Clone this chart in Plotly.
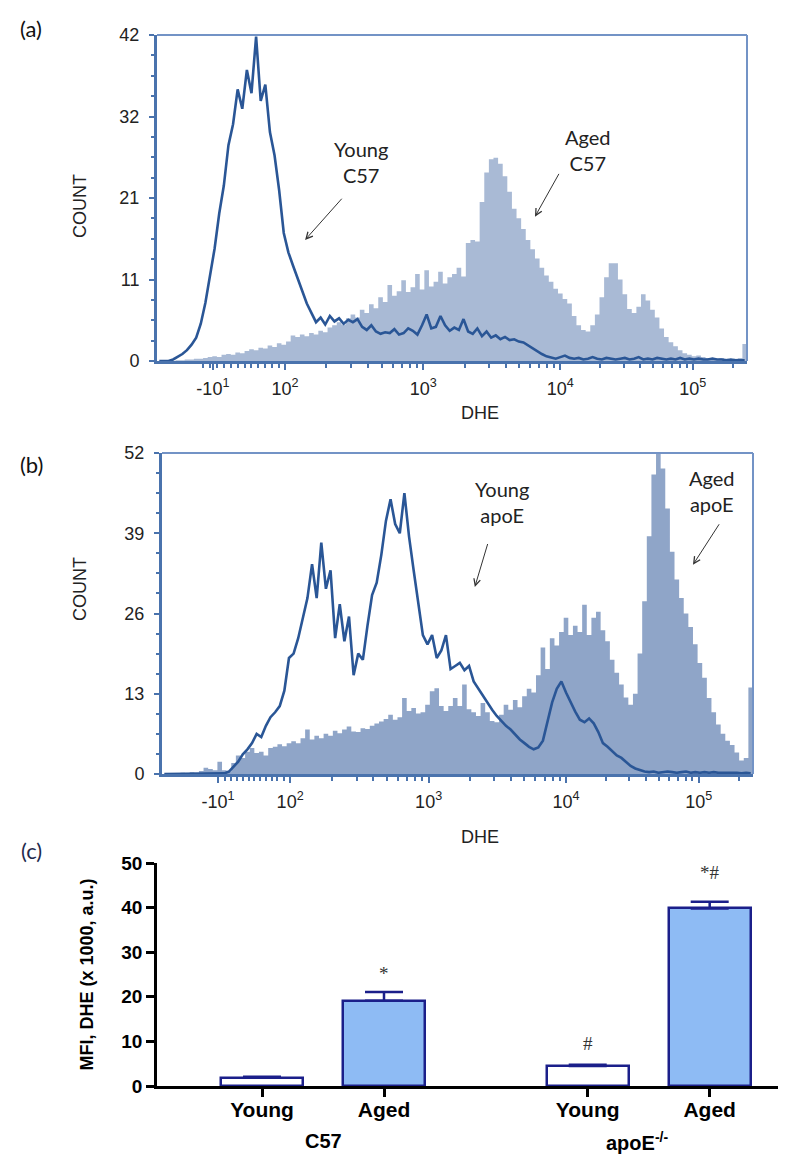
import numpy as np
import plotly.graph_objects as go

# ---------------- data ----------------
N_BINS = 128
BIN_WIDTH = 8  # display channels per histogram bin (1024-channel logicle scale)

young_c57 = [0, 0, 0, 0.2, 0.5, 0.9, 1.4, 2.1, 3.0, 4.8,
             7.5, 10.8, 14.5, 19.0, 22.6, 27.8, 30.5, 35.0, 32.5, 37.5,
             34.5, 41.8, 33.5, 35.6, 29.5, 26.5, 22.0, 16.5, 14.0, 12.3,
             10.6, 9.0, 7.4, 6.2, 5.0, 5.6, 4.7, 5.8, 5.1, 5.5,
             4.8, 5.3, 5.0, 5.4, 4.4, 4.0, 4.6, 3.8, 3.5, 3.7,
             3.6, 4.1, 3.4, 3.6, 4.2, 3.9, 3.4, 4.6, 6.0, 4.2,
             4.4, 5.8, 4.6, 3.9, 4.3, 4.0, 5.4, 3.8, 3.5, 4.2,
             3.2, 3.8, 3.0, 3.3, 2.8, 3.1, 2.7, 2.8, 2.5, 2.4,
             2.0, 1.6, 1.3, 0.9, 0.6, 0.4, 0.3, 0.5, 0.7, 0.4,
             0.3, 0.4, 0.2, 0.3, 0.5, 0.3, 0.2, 0.4, 0.3, 0.2,
             0.3, 0.4, 0.2, 0.3, 0.5, 0.2, 0.3, 0.2, 0.4, 0.3,
             0.2, 0.3, 0.2, 0.4, 0.2, 0.3, 0.2, 0.3, 0.2, 0.2,
             0.3, 0.2, 0.2, 0.1, 0.2, 0.1, 0.1, 0.1]

aged_c57 = [0, 0, 0, 0, 0.1, 0.1, 0.2, 0.2, 0.3, 0.3,
            0.4, 0.5, 0.6, 0.5, 0.8, 0.9, 0.8, 1.1, 1.0, 1.3,
            1.5, 1.4, 1.7, 1.6, 2.0, 1.8, 2.3, 2.1, 2.5, 3.3,
            3.1, 3.4, 3.2, 3.6, 3.4, 3.9, 3.7, 4.3, 4.6, 5.0,
            4.7, 5.5, 6.0, 5.6, 6.6, 6.2, 7.3, 6.8, 8.2, 7.6,
            9.8, 8.4, 9.0, 10.4, 8.9, 9.5, 11.2, 9.2, 11.7, 9.6,
            10.2, 11.5, 10.0, 10.8, 11.2, 12.0, 10.9, 15.2, 15.6, 15.4,
            20.5, 24.3, 26.0, 26.2, 25.4, 23.8, 21.8, 19.6, 18.4, 17.0,
            15.6, 14.4, 13.2, 12.0, 11.0, 10.2, 9.3, 8.7, 8.0, 7.4,
            5.8, 4.6, 4.0, 3.8, 4.6, 6.0, 8.2, 10.8, 12.6, 12.6,
            10.5, 8.6, 6.7, 6.2, 7.0, 8.6, 7.8, 6.6, 5.6, 4.2,
            3.1, 2.4, 1.9, 1.4, 1.0, 0.8, 0.6, 0.7, 0.5, 0.4,
            0.3, 0.3, 0.4, 0.3, 0.2, 0.3, 0.4, 2.2]

young_apoe = [0, 0, 0, 0, 0, 0, 0, 0, 0, 0,
              0, 0, 0, 0.1, 0.4, 1.2, 2.0, 3.2, 4.0, 5.0,
              6.5, 6.0, 7.8, 9.2, 10.0, 11.0, 13.5, 18.8, 19.5, 22.0,
              25.5, 28.5, 34.0, 28.5, 37.5, 30.0, 33.0, 22.0, 27.5, 21.5,
              25.5, 16.0, 19.5, 18.5, 24.0, 29.0, 31.0, 35.5, 41.0, 44.5,
              40.5, 39.0, 45.5, 38.5, 33.0, 28.0, 22.5, 21.0, 22.5, 18.8,
              20.0, 22.5, 17.0, 17.5, 18.0, 16.8, 17.5, 15.0, 13.8, 12.6,
              11.5, 10.4, 9.4, 8.6, 7.8, 7.2, 6.4, 5.6, 5.0, 4.4,
              4.0, 4.3, 5.4, 8.4, 11.6, 13.8, 15.0, 13.2, 11.5, 10.1,
              8.8, 8.4, 9.0, 8.2, 6.8, 5.0, 4.4, 3.7, 3.0, 2.6,
              2.0, 1.3, 0.9, 0.6, 0.4, 0.3, 0.4, 0.2, 0.3, 0.4,
              0.3, 0.2, 0.3, 0.4, 0.2, 0.3, 0.2, 0.3, 0.2, 0.3,
              0.2, 0.2, 0.3, 0.2, 0.2, 0.1, 0.2, 0.1]

aged_apoe = [0, 0, 0.1, 0, 0.2, 0.1, 0.3, 0.2, 0.5, 1.0,
             0.8, 0.6, 2.0, 0.6, 0.4, 1.8, 3.0, 2.6, 3.6, 4.2,
             3.4, 3.6, 3.0, 4.2, 4.4, 4.8, 4.5, 5.0, 5.3, 5.0,
             5.8, 7.2, 5.6, 6.2, 5.8, 6.5, 6.2, 7.0, 6.6, 7.2,
             7.7, 6.9, 6.8, 7.4, 7.3, 7.8, 8.2, 8.5, 8.9, 9.6,
             8.8, 9.2, 12.3, 10.2, 10.7, 9.8, 10.0, 11.2, 13.4, 13.9,
             11.0, 10.2, 11.0, 12.3, 11.0, 14.5, 10.5, 10.0, 9.4, 11.5,
             10.0, 8.6, 8.4, 9.6, 11.2, 10.4, 12.0, 10.8, 12.6, 13.8,
             13.2, 16.0, 20.5, 17.0, 22.0, 20.8, 23.0, 25.3, 22.5, 24.0,
             23.0, 27.4, 22.5, 25.3, 26.3, 23.3, 21.5, 18.5, 16.4, 14.5,
             12.4, 11.2, 13.0, 19.5, 28.0, 38.5, 48.5, 52.0, 49.5, 43.0,
             36.0, 31.5, 28.5, 26.0, 23.8, 21.0, 18.0, 15.6, 12.3, 10.0,
             8.0, 6.5, 5.4, 4.7, 3.5, 2.2, 2.6, 14.0]

# logicle display: decade label channels
decade_labels = ["-10<sup>1</sup>", "10<sup>2</sup>", "10<sup>3</sup>", "10<sup>4</sup>", "10<sup>5</sup>"]
decade_channels = [97, 222, 462, 700, 930]

count_ticks_a = [0, 10.5, 21, 31.5, 42]
count_labels_a = ["0", "11", "21", "32", "42"]
count_ticks_b = [0, 13, 26, 39, 52]
count_labels_b = ["0", "13", "26", "39", "52"]

# MFI bar chart
mfi_groups = ["C57", "C57", "apoE<sup>-/-</sup>", "apoE<sup>-/-</sup>"]
mfi_group_idx = [0, 0, 1, 1]
mfi_ages = ["Young", "Aged", "Young", "Aged"]
mfi_age_idx = [0, 1, 0, 1]
mfi_mean = [1.9, 19.1, 4.5, 39.8]
mfi_sem = [0.15, 2.0, 0.25, 1.5]
mfi_marks = ["", "*", "#", "*#"]

# ---------------- style ----------------
PAGE_OFF = 8            # browser body margin
W, H = 794 - 2 * PAGE_OFF, 1165 - 2 * PAGE_OFF
LINE_BLUE = "#2A5696"
FILL_A = "#A9BAD5"
FILL_B = "#8FA5C8"
AXIS_BLUE = "#4A73AD"
FRAME_BLUE = "#7393C6"
NAVY = "#1B1F8A"
BAR_BLUE = "#8EBBF4"
TXT = "#222222"
GROUP_STEP = 2.67
MARK_SHIFT = [0, 18, 21, 29]


def px(x):
    return (x - PAGE_OFF) / W


def py(y):
    return 1 - (y - PAGE_OFF) / H


edges = np.arange(N_BINS + 1) * BIN_WIDTH
centers = (edges[:-1] + edges[1:]) / 2

minor_ch_a = [80, 92, 104, 116, 128, 140, 152, 164, 176, 188, 200, 212,
              294, 337, 366, 390, 409, 425, 439, 451,
              534, 576, 605, 628, 647, 663, 677, 689,
              769, 810, 838, 861, 879, 894, 908, 919, 999]
minor_ch_b = [110, 120, 130, 140, 150, 160, 170, 180, 190, 200, 212,
              294, 337, 366, 390, 409, 425, 439, 451,
              534, 576, 605, 628, 647, 663, 677, 689,
              769, 810, 838, 861, 879, 894, 908, 919, 999]

fig = go.Figure()


def hist_step(vals):
    return list(vals) + [vals[-1]]


# panel (a)
fig.add_trace(go.Scatter(x=edges, y=hist_step(aged_c57), mode="lines", line=dict(shape="hv", width=0, color=FILL_A),
                         fill="tozeroy", fillcolor=FILL_A, xaxis="x", yaxis="y", showlegend=False, name="Aged C57"))
fig.add_trace(go.Scatter(x=centers, y=young_c57, mode="lines", line=dict(width=2.6, color=LINE_BLUE),
                         xaxis="x", yaxis="y", showlegend=False, name="Young C57"))
# panel (b)
fig.add_trace(go.Scatter(x=edges, y=hist_step(aged_apoe), mode="lines", line=dict(shape="hv", width=0, color=FILL_B),
                         fill="tozeroy", fillcolor=FILL_B, xaxis="x2", yaxis="y2", showlegend=False, name="Aged apoE"))
fig.add_trace(go.Scatter(x=centers, y=young_apoe, mode="lines", line=dict(width=2.6, color=LINE_BLUE),
                         xaxis="x2", yaxis="y2", showlegend=False, name="Young apoE"))

# panel (c)
bar_x = [g * GROUP_STEP + a for g, a in zip(mfi_group_idx, mfi_age_idx)]
bar_fill = ["white" if a == 0 else BAR_BLUE for a in mfi_age_idx]
fig.add_trace(go.Bar(x=bar_x, y=mfi_mean, width=0.672, marker=dict(color=bar_fill, line=dict(color=NAVY, width=2.5)),
                     error_y=dict(type="data", array=mfi_sem, arrayminus=[0] * 4, symmetric=False,
                                  color=NAVY, thickness=2.5, width=19),
                     xaxis="x3", yaxis="y3", showlegend=False))

hist_font = dict(family="Liberation Sans, Arial", size=18, color=TXT)

common_x = dict(range=[0, 1024], showline=True, linecolor=AXIS_BLUE, linewidth=3, ticks="outside",
                ticklen=6, tickwidth=1.5, tickcolor=AXIS_BLUE, tickvals=decade_channels, ticktext=decade_labels,
                tickfont=hist_font, showgrid=False, zeroline=False, ticklabelstandoff=3, automargin=False)
common_y = dict(showline=True, linecolor=AXIS_BLUE, linewidth=3, ticks="outside", ticklen=5, tickwidth=1.5,
                tickcolor=AXIS_BLUE, tickfont=hist_font, showgrid=False, zeroline=False, ticklabelstandoff=6,
                automargin=False)

fig.update_layout(
    width=W, height=H, margin=dict(l=0, r=0, t=0, b=0, autoexpand=False), autosize=False,
    paper_bgcolor="white", plot_bgcolor="white",
    xaxis=dict(domain=[px(157), px(747)], anchor="y",
               minor=dict(tickmode="array", tickvals=minor_ch_a, ticks="outside", ticklen=4, tickcolor=AXIS_BLUE),
               **common_x),
    yaxis=dict(domain=[py(361), py(35)], anchor="x", range=[0, 42], tickvals=count_ticks_a, ticktext=count_labels_a,
               minor=dict(dtick=42 / 16, tick0=0, ticks="outside", ticklen=3, tickcolor=AXIS_BLUE), **common_y),
    xaxis2=dict(domain=[px(162), px(753)], anchor="y2",
                minor=dict(tickmode="array", tickvals=minor_ch_b, ticks="outside", ticklen=4, tickcolor=AXIS_BLUE),
                **common_x),
    yaxis2=dict(domain=[py(774), py(453)], anchor="x2", range=[0, 52], tickvals=count_ticks_b, ticktext=count_labels_b,
                minor=dict(dtick=52 / 16, tick0=0, ticks="outside", ticklen=3, tickcolor=AXIS_BLUE), **common_y),
    xaxis3=dict(domain=[px(157), px(778)], anchor="y3", range=[-0.861, 4.23], showline=True, linecolor="black",
                linewidth=2.5, ticks="outside", ticklen=8, tickwidth=2.5, tickcolor="black",
                tickvals=bar_x, ticktext=mfi_ages, showgrid=False, zeroline=False, automargin=False,
                ticklabelstandoff=-5,
                tickfont=dict(family="Liberation Sans, Arial", size=21, color="black", weight="bold")),
    yaxis3=dict(domain=[py(1086), py(863)], anchor="x3", range=[0, 50], showline=True, linecolor="black",
                linewidth=2.5, ticks="outside", ticklen=8, tickwidth=2.5, tickcolor="black",
                tickvals=[0, 10, 20, 30, 40, 50], showgrid=False, zeroline=False, automargin=False,
                tickfont=dict(family="Liberation Sans, Arial", size=19, color="black", weight="bold"),
                title=dict(text="MFI, DHE (x 1000, a.u.)", standoff=24,
                           font=dict(family="Liberation Sans, Arial", size=18, color="black", weight="bold"))),
    bargap=0,
)

# frame (top/right) for histogram panels
for xr, yr in (("x", "y"), ("x2", "y2")):
    fig.add_shape(type="line", xref=f"{xr} domain", yref=f"{yr} domain", x0=0, x1=1, y0=1, y1=1,
                  line=dict(color=FRAME_BLUE, width=2))
    fig.add_shape(type="line", xref=f"{xr} domain", yref=f"{yr} domain", x0=1, x1=1, y0=0, y1=1,
                  line=dict(color=FRAME_BLUE, width=2))

ann = []
CM = dict(xanchor="center", yanchor="middle")
label_font = dict(family="Lato, Carlito, sans-serif", size=20, color=TXT)
# text labels inside histograms
ann.append(dict(x=354, y=25.6, xref="x", yref="y", text="Young<br>C57", showarrow=False, font=label_font, **CM))
ann.append(dict(x=748, y=27.2, xref="x", yref="y", text="Aged<br>C57", showarrow=False, font=label_font, **CM))
ann.append(dict(x=589, y=44.0, xref="x2", yref="y2", text="Young<br>apoE", showarrow=False, font=label_font, **CM))
ann.append(dict(x=953, y=45.9, xref="x2", yref="y2", text="Aged<br>apoE", showarrow=False, font=label_font, **CM))
# arrows
arrow_style = dict(showarrow=True, arrowhead=5, arrowsize=1.3, arrowwidth=1, arrowcolor="#333333", text="")
ann.append(dict(x=257, y=15.6, ax=323, ay=21.1, xref="x", yref="y", axref="x", ayref="y", **arrow_style))
ann.append(dict(x=656, y=18.6, ax=699, ay=24.3, xref="x", yref="y", axref="x", ayref="y", **arrow_style))
ann.append(dict(x=542, y=30.3, ax=565, ay=37.5, xref="x2", yref="y2", axref="x2", ayref="y2", **arrow_style))
ann.append(dict(x=920, y=33.9, ax=967, ay=40.7, xref="x2", yref="y2", axref="x2", ayref="y2", **arrow_style))

# axis titles for histograms
for yc in (206, 589):
    ann.append(dict(x=px(80), y=py(yc), xref="paper", yref="paper", text="COUNT", textangle=-90,
                    showarrow=False, font=hist_font, **CM))
for yc in (413, 837):
    ann.append(dict(x=px(480), y=py(yc), xref="paper", yref="paper", text="DHE", showarrow=False,
                    font=hist_font, **CM))

# panel letters
panel_font = dict(family="Lato, Carlito, sans-serif", size=22, color="#111111")
ann.append(dict(x=px(31), y=py(28), xref="paper", yref="paper", text="(a)", showarrow=False, font=panel_font, **CM))
ann.append(dict(x=px(31), y=py(464), xref="paper", yref="paper", text="(b)", showarrow=False, font=panel_font, **CM))
ann.append(dict(x=px(31), y=py(850), xref="paper", yref="paper", text="(c)", showarrow=False,
                font=dict(family="Lato, Carlito, sans-serif", size=22, color="#1F2B4D"), **CM))

# group labels under bars
group_names = []
for g, name in zip(mfi_group_idx, mfi_groups):
    if name not in group_names:
        group_names.append(name)
        shift = 0 if g == 0 else -12
        ann.append(dict(x=g * GROUP_STEP + 0.5, y=py(1141), xref="x3", yref="paper", text=name, showarrow=False,
                        xshift=shift, font=dict(family="Liberation Sans, Arial", size=20, color="black", weight="bold"),
                        **CM))

# significance marks
for xb, m, s, mk, sh in zip(bar_x, mfi_mean, mfi_sem, mfi_marks, MARK_SHIFT):
    if mk:
        ann.append(dict(x=xb, y=m + s, xref="x3", yref="y3", text=mk, showarrow=False, yshift=sh,
                        font=dict(family="Liberation Serif, serif", size=19, color="#333333"), **CM))

fig.update_layout(annotations=ann)
fig.write_html("out.html")
